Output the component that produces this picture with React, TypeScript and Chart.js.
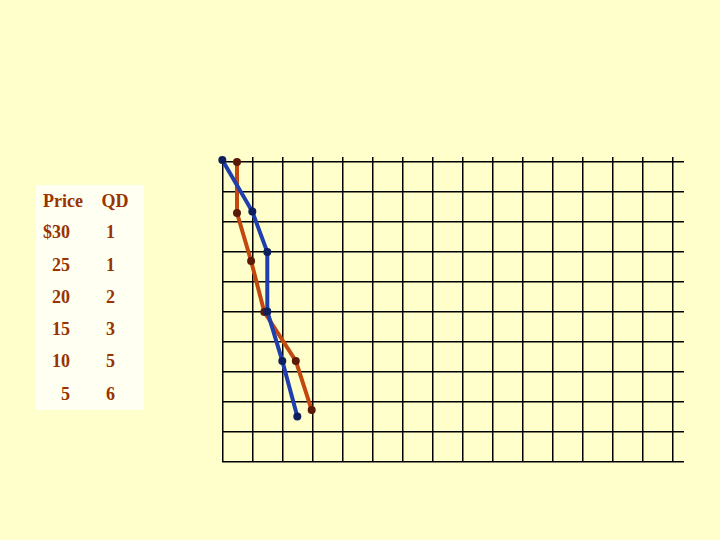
import React, { useEffect, useRef } from "react";
import { Chart, registerables } from "chart.js";

Chart.register(...registerables);

// Demand curves: quantity (grid units) vs price (grid units)
const blueQty = [0, 1.0, 1.5, 1.5, 2.0, 2.5];
const bluePrice = [10.07, 8.35, 7.0, 5.02, 3.37, 1.52];
const redQty = [0.49, 0.49, 0.96, 1.4, 2.45, 2.98];
const redPrice = [10.0, 8.3, 6.7, 5.0, 3.37, 1.73];

// Table
const tablePrices = ["$30", "25", "20", "15", "10", "5"];
const tableQD = ["1", "1", "2", "3", "5", "6"];

const xTicks = Array.from({ length: 16 }, (_, i) => i);
const yTicks = Array.from({ length: 11 }, (_, i) => i);

export default function App() {
  const ref = useRef<HTMLCanvasElement | null>(null);

  useEffect(() => {
    if (!ref.current) return;
    const chart = new Chart(ref.current, {
      type: "scatter",
      data: {
        datasets: [
          {
            data: blueQty.map((q, i) => ({ x: q, y: bluePrice[i] })),
            showLine: true,
            borderColor: "#1f3fae",
            borderWidth: 4,
            pointRadius: 4,
            pointBackgroundColor: "#0d1f5c",
            pointBorderWidth: 0,
            clip: false,
          } as any,
          {
            data: redQty.map((q, i) => ({ x: q, y: redPrice[i] })),
            showLine: true,
            borderColor: "#c2480e",
            borderWidth: 4,
            pointRadius: 4,
            pointBackgroundColor: "#5a1a08",
            pointBorderWidth: 0,
            clip: false,
          } as any,
        ],
      },
      options: {
        animation: false,
        responsive: false,
        layout: { padding: { left: 222.3, right: 36, top: 157, bottom: 78 } },
        plugins: { legend: { display: false }, tooltip: { enabled: false } },
        scales: {
          x: {
            type: "linear",
            position: "top",
            min: 0,
            max: 15.39,
            afterBuildTicks: (s: any) => {
              s.ticks = xTicks.map((v) => ({ value: v }));
            },
            afterFit: (s: any) => {
              s.height = 5;
            },
            ticks: { display: false },
            grid: { color: "#000", lineWidth: 1.5, drawTicks: true, tickLength: 5 },
            border: { display: false },
          },
          y: {
            type: "linear",
            min: 0,
            max: 10,
            afterBuildTicks: (s: any) => {
              s.ticks = yTicks.map((v) => ({ value: v }));
            },
            afterFit: (s: any) => {
              s.width = 0;
            },
            ticks: { display: false },
            grid: { color: "#000", lineWidth: 1.5, drawTicks: false },
            border: { display: false },
          },
        },
      },
    });
    return () => chart.destroy();
  }, []);

  const textStyle: React.CSSProperties = {
    position: "absolute",
    fontFamily: "'Liberation Serif', 'Times New Roman', serif",
    fontWeight: "bold",
    fontSize: 18,
    lineHeight: "18px",
    color: "#993300",
    whiteSpace: "nowrap",
  };
  const rowTops = [223.3, 256, 288, 320, 352, 385];

  return (
    <div
      style={{
        position: "absolute",
        left: 0,
        top: 0,
        width: 720,
        height: 540,
        background: "#ffffcc",
        overflow: "hidden",
      }}
    >
      <canvas ref={ref} width={720} height={540} style={{ position: "absolute", left: 0, top: 0 }} />
      <div
        style={{
          position: "absolute",
          left: 36,
          top: 185,
          width: 108,
          height: 225,
          background: "#fffff2",
        }}
      />
      <span style={{ ...textStyle, left: 43, top: 191.7 }}>Price</span>
      <span style={{ ...textStyle, left: 101.5, top: 191.7 }}>QD</span>
      {tablePrices.map((p, i) => (
        <span key={"p" + i} style={{ ...textStyle, right: 720 - 70, top: rowTops[i] }}>
          {p}
        </span>
      ))}
      {tableQD.map((q, i) => (
        <span
          key={"q" + i}
          style={{ ...textStyle, left: 110.5, top: rowTops[i], transform: "translateX(-50%)" }}
        >
          {q}
        </span>
      ))}
    </div>
  );
}
